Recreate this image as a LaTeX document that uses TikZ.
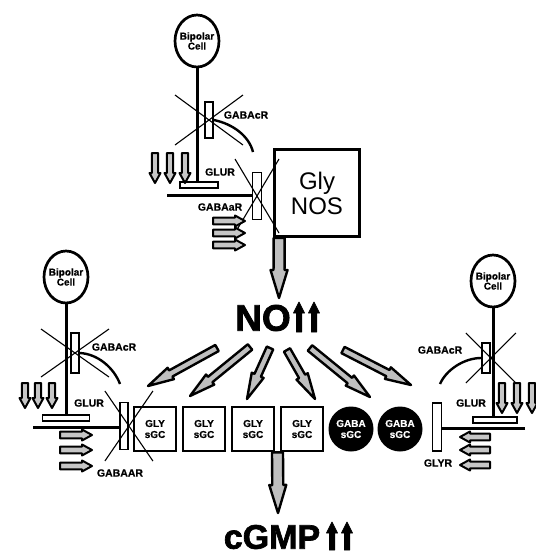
\documentclass[tikz,border=0pt]{standalone}
\usepackage{fontspec}
\setmainfont{Liberation Sans}
\newfontfamily\heavyfont{Liberation Sans Bold}[FakeBold=2]
\newfontfamily\labelfont{Liberation Sans Bold}[FakeBold=0.6]
\usetikzlibrary{calc,shapes.geometric}

\tikzset{
  cellbody/.style={ellipse,draw,line width=2.7pt,minimum width=44pt,minimum height=52pt,inner xsep=-2pt,inner ysep=0pt,align=center,font=\labelfont\fontsize{10}{10}\selectfont},
  receptor/.style={draw,fill=white,line width=1.8pt,inner sep=0pt},
  rlabel/.style={inner sep=0pt,font=\labelfont\fontsize{10.5}{10.5}\selectfont},
  neurite/.style={line width=3pt},
  blocker/.style={line width=1.1pt},
  feedback/.style={line width=2.4pt},
  sgcbox/.style={draw,fill=white,line width=2.8pt,minimum width=42pt,minimum height=44pt,inner sep=0pt,align=center,font=\labelfont\fontsize{10}{11}\selectfont},
  sgcdot/.style={circle,fill=black,text=white,minimum size=45pt,inner sep=0pt,align=center,font=\labelfont\fontsize{10}{11}\selectfont},
  flowarrow/.style={draw=black,fill=gray!50,line width=2.4pt,line join=round},
  fluxarrow/.style={draw=black,fill=gray!45,line width=2pt,line join=round},
  risearrow/.style={draw=black,fill=black,line width=0.8pt,line join=round},
  bigtext/.style={inner sep=0pt,font=\heavyfont\fontsize{37}{37}\selectfont},
}
% block arrow: [style]{tail}{tip}{shaft half width}{head half width}{head length}
\newcommand{\FlowArrow}[6][]{%
  \coordinate (fa-n) at ($(#3)!#6!(#2)$);
  \draw[flowarrow,#1] ($(#2)!#4!90:(#3)$) -- ($(fa-n)!#4!90:(#3)$)
    -- ($(fa-n)!#5!90:(#3)$) -- (#3) -- ($(fa-n)!#5!-90:(#3)$)
    -- ($(fa-n)!#4!-90:(#3)$) -- ($(#2)!#4!-90:(#3)$) -- cycle;%
}
% cross over a blocked receptor
\newcommand{\Blocked}[3]{%
  \draw[blocker] ($(#1)+(-#2,-#3)$) -- ($(#1)+(#2,#3)$)
    ($(#1)+(#2,-#3)$) -- ($(#1)+(-#2,#3)$);%
}

\begin{document}
\begin{tikzpicture}[x=1pt,y=-1pt]
\useasboundingbox (0,0) rectangle (536,558);

% top: bipolar terminal onto the NOS amacrine
\node[cellbody] (bcT) at (197,41) {Bipolar\\Cell};
\node[receptor,minimum width=38pt,minimum height=6pt] (glurT) at (199,185) {};
\draw[neurite] (bcT.south) -- (bcT.south |- glurT.north);
\node[receptor,minimum width=8pt,minimum height=36pt] (gabacT) at (209,120) {};
\node[rlabel] at (246,115) {GABAcR};
\node[rlabel] at (220,172) {GLUR};
\node[draw,line width=2.8pt,minimum width=85pt,minimum height=87pt,align=center,font=\fontsize{24}{25}\selectfont] (nos) at (317,193) {Gly\\NOS};
\node[receptor,minimum width=9pt,minimum height=47pt] (gabaaT) at (257,196) {};
\coordinate (dT) at (167,195);
\draw[neurite] (dT) -- (dT -| gabaaT.west);
\node[rlabel] at (220,207) {GABAaR};
\Blocked{gabacT}{34}{25}
\Blocked{gabaaT}{22}{37}
\coordinate (fbT) at (253,152);
\draw[feedback] (gabacT.east) .. controls (233,124) and (249,136) .. (fbT);
\foreach \x in {155,170,185} {\FlowArrow[fluxarrow]{\x,153}{\x,183}{3.2pt}{5.5pt}{10pt}}
\foreach \y in {221,233,245} {\FlowArrow[fluxarrow]{213,\y}{245,\y}{3.4pt}{5.5pt}{10pt}}

% NO
\coordinate (nosout) at ($(nos.south west)+(6,0)$);
\node[bigtext] (no) at (263,318) {NO};
\coordinate (noin) at (279,298);
\FlowArrow{nosout}{noin}{5.5pt}{8.5pt}{28pt}
\foreach \x in {299,314} {\FlowArrow[risearrow]{\x,332}{\x,302}{2.6pt}{5.5pt}{11pt}}

% NO spreading to the guanylyl cyclases
\foreach \i/\tx/\ty/\hx/\hy in {1/217/348/148/386,2/250/347/190/396,3/270/348/247/399,4/287/350/315/399,5/310/348/370/397,6/343/350/411/385}{
  \coordinate (nt\i) at (\tx,\ty);
  \coordinate (nh\i) at (\hx,\hy);
  \FlowArrow{nt\i}{nh\i}{3.5pt}{6.5pt}{26pt}
}

% sGC row
\foreach \i/\x in {1/155,2/204,3/253,4/302} {\node[sgcbox] (gly\i) at (\x,429) {GLY\\sGC};}
\foreach \i/\x in {1/351,2/400} {\node[sgcdot] (gaba\i) at (\x,429) {GABA\\sGC};}

% cGMP
\coordinate (sgcout) at ($(gly3.south east)!.5!(gly4.south west)$);
\node[bigtext,font=\heavyfont\fontsize{34}{34}\selectfont] (cgmp) at (272,537) {cGMP};
\coordinate (cgmpin) at (278,513);
\FlowArrow{sgcout}{cgmpin}{5.5pt}{8.5pt}{28pt}
\foreach \x in {332,347} {\FlowArrow[risearrow]{\x,550}{\x,522}{2.6pt}{5.5pt}{11pt}}

% left synapse
\node[cellbody] (bcL) at (66,277) {Bipolar\\Cell};
\node[receptor,minimum width=47pt,minimum height=6pt] (glurL) at (66,418) {};
\draw[neurite] (bcL.south) -- (bcL.south |- glurL.north);
\node[receptor,minimum width=8pt,minimum height=40pt] (gabacL) at (75,353) {};
\node[rlabel] at (114,347) {GABAcR};
\node[rlabel] at (89,403) {GLUR};
\node[receptor,minimum width=8pt,minimum height=47pt] (gabaaL) at (124,426) {};
\coordinate (dL) at (33,427);
\draw[neurite] (dL) -- (dL -| gabaaL.west);
\node[rlabel] at (120,473) {GABAAR};
\Blocked{gabacL}{34}{24}
\Blocked{gabaaL.east}{24}{35}
\coordinate (fbL) at (120,384);
\draw[feedback] (gabacL.east) .. controls (98,354) and (114,368) .. (fbL);
\foreach \x in {25,38,52} {\FlowArrow[fluxarrow]{\x,383}{\x,408}{3.2pt}{5.5pt}{10pt}}
\foreach \y in {435,450,466} {\FlowArrow[fluxarrow]{60,\y}{92,\y}{3.4pt}{5.5pt}{10pt}}

% right synapse
\node[cellbody] (bcR) at (493,281) {Bipolar\\Cell};
\node[receptor,minimum width=44pt,minimum height=6pt] (glurR) at (495,420) {};
\draw[neurite] (bcR.south) -- (bcR.south |- glurR.north);
\node[receptor,minimum width=8pt,minimum height=30pt] (gabacR) at (486,358) {};
\node[rlabel] at (440,350) {GABAcR};
\node[rlabel] at (471,403) {GLUR};
\node[receptor,minimum width=9pt,minimum height=48pt] (glyr) at (437,427) {};
\coordinate (dR) at (525,428);
\draw[neurite] (dR) -- (dR -| glyr.east);
\node[rlabel] at (438,463) {GLYR};
\Blocked{gabacR.east}{25}{25}
\coordinate (fbR) at (440,384);
\draw[feedback] (gabacR.west) .. controls (464,358) and (446,370) .. (fbR);
\foreach \x in {502,517,532} {\FlowArrow[fluxarrow]{\x,383}{\x,413}{3.2pt}{5.5pt}{10pt}}
\foreach \y in {437,450,465} {\FlowArrow[fluxarrow]{490,\y}{460,\y}{3.4pt}{5.5pt}{10pt}}
\end{tikzpicture}
\end{document}
